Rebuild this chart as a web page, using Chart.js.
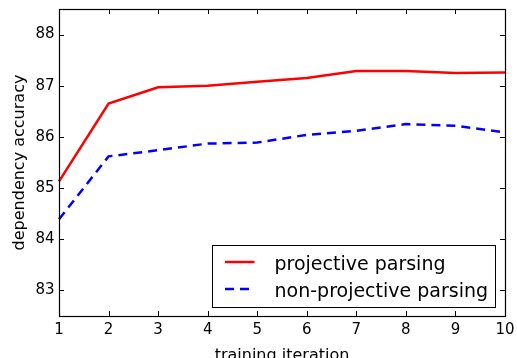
<!DOCTYPE html>
<html>
<head>
<meta charset="utf-8">
<script src="https://cdn.jsdelivr.net/npm/chart.js@4/dist/chart.umd.min.js"></script>
<style>
  html, body { margin: 0; padding: 0; background: #fff; }
  #wrap { width: 517px; height: 358px; }
</style>
</head>
<body>
<div id="wrap"><canvas id="chart"></canvas></div>
<script>
// données
const iterations = [1, 2, 3, 4, 5, 6, 7, 8, 9, 10];
const projective = [85.13, 86.65, 86.97, 87.0, 87.08, 87.15, 87.29, 87.29, 87.25, 87.26];
const nonProjective = [84.39, 85.62, 85.74, 85.87, 85.89, 86.04, 86.12, 86.25, 86.22, 86.09];
const yTicks = [83, 84, 85, 86, 87, 88];
const seriesNames = ['projective parsing', 'non-projective parsing'];

const FONT = 'DejaVu Sans';

// cadre + graduations vers l'intérieur sur les 4 côtés (style matplotlib)
const framePlugin = {
    id: 'frame',
    afterDraw(chart) {
        const { ctx, chartArea: a, scales } = chart;
        const len = 5;
        ctx.save();
        ctx.strokeStyle = '#000';
        ctx.lineWidth = 1;
        ctx.beginPath();
        scales.x.ticks.forEach((t, i) => {
            const px = Math.round(scales.x.getPixelForTick(i)) + 0.5;
            ctx.moveTo(px, a.bottom); ctx.lineTo(px, a.bottom - len);
            ctx.moveTo(px, a.top); ctx.lineTo(px, a.top + len);
        });
        scales.y.ticks.forEach(t => {
            const py = Math.round(scales.y.getPixelForValue(t.value)) + 0.5;
            ctx.moveTo(a.left, py); ctx.lineTo(a.left + len, py);
            ctx.moveTo(a.right, py); ctx.lineTo(a.right - len, py);
        });
        ctx.stroke();
        ctx.lineWidth = 1.2;
        ctx.strokeRect(Math.round(a.left) + 0.5, Math.round(a.top) + 0.5,
            Math.round(a.right - a.left), Math.round(a.bottom - a.top));

        // légende en bas à droite
        const w = 283, h = 62;
        const x0 = Math.round(a.right - 10 - w) + 0.5;
        const y0 = Math.round(a.bottom - 9 - h) + 0.5;
        ctx.fillStyle = '#fff';
        ctx.fillRect(x0, y0, w, h);
        ctx.lineWidth = 1;
        ctx.strokeRect(x0, y0, w, h);
        chart.data.datasets.forEach((ds, i) => {
            const yy = y0 + 16.5 + i * 27;
            ctx.beginPath();
            ctx.strokeStyle = ds.borderColor;
            ctx.lineWidth = ds.borderWidth;
            ctx.setLineDash(ds.borderDash || []);
            ctx.lineCap = 'butt';
            ctx.moveTo(x0 + 12.5, yy);
            ctx.lineTo(x0 + 42, yy);
            ctx.stroke();
            ctx.setLineDash([]);
            ctx.fillStyle = '#000';
            ctx.font = '19px "' + FONT + '"';
            ctx.textBaseline = 'alphabetic';
            ctx.textAlign = 'left';
            ctx.fillText(ds.label, x0 + 62, yy + 7.8);
        });
        ctx.restore();
    }
};

function noPad(scale) {
    scale.paddingTop = 0;
    scale.paddingBottom = 0;
    scale.paddingLeft = 0;
    scale.paddingRight = 0;
}

const ctx = document.getElementById('chart').getContext('2d');
new Chart(ctx, {
    type: 'line',
    data: {
        labels: iterations,
        datasets: [{
            label: seriesNames[0],
            data: projective,
            borderColor: '#ff0000',
            borderWidth: 2.5,
            pointRadius: 0,
            tension: 0,
            fill: false
        }, {
            label: seriesNames[1],
            data: nonProjective,
            borderColor: '#0000ff',
            borderWidth: 2.5,
            borderDash: [9, 6],
            pointRadius: 0,
            tension: 0,
            fill: false
        }]
    },
    options: {
        responsive: true,
        maintainAspectRatio: false,
        animation: false,
        layout: { padding: { top: 9, right: 12, left: 0, bottom: 0 } },
        plugins: { legend: { display: false }, tooltip: { enabled: false } },
        scales: {
            x: {
                type: 'category',
                offset: false,
                grid: { display: false, drawTicks: false },
                border: { display: false },
                ticks: { color: '#000', font: { family: FONT, size: 15 }, padding: 5, maxRotation: 0, autoSkip: false },
                title: {
                    display: true, text: 'training iteration', color: '#000',
                    font: { family: FONT, size: 16 }, padding: { top: 0, bottom: -7 }
                },
                afterFit(scale) { scale.height = 42; noPad(scale); }
            },
            y: {
                min: 82.5,
                max: 88.5,
                grid: { display: false, drawTicks: false },
                border: { display: false },
                ticks: { color: '#000', font: { family: FONT, size: 15 }, padding: 4.5 },
                afterBuildTicks(scale) { scale.ticks = yTicks.map(v => ({ value: v })); },
                title: {
                    display: true, text: 'dependency accuracy', color: '#000',
                    font: { family: FONT, size: 16 }, padding: { top: 10.4, bottom: 0 }
                },
                afterFit(scale) { scale.width = 59; noPad(scale); }
            }
        }
    },
    plugins: [framePlugin]
});
</script>
</body>
</html>
